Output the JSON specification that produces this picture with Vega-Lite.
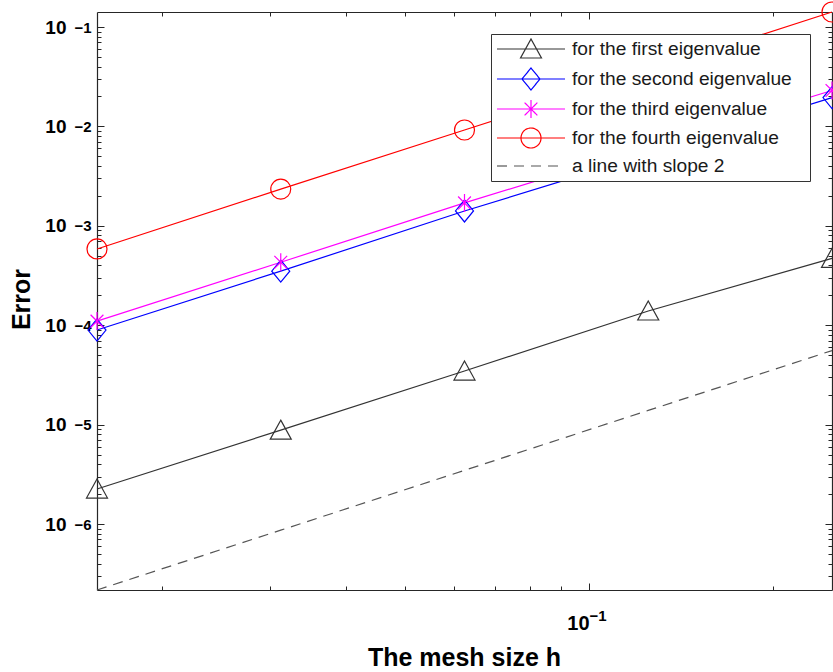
{
  "$schema": "https://vega.github.io/schema/vega-lite/v6.json",
  "autosize": {"type": "none"},
  "padding": {"left": 97, "top": 12, "right": 1, "bottom": 82},
  "width": 735,
  "height": 578,
  "background": "white",
  "config": {
    "view": {"stroke": null},
    "font": "Liberation Sans",
    "axis": {"grid": false, "domainColor": "#262626", "tickColor": "#262626", "domainWidth": 1.2, "tickWidth": 1, "labelColor": "#000", "titleColor": "#000", "labelFont": "Liberation Sans", "titleFont": "Liberation Sans"}
  },
  "data": {
    "values": [
      {"h": 0.015625, "err": 2.25e-6, "s": "for the first eigenvalue"},
      {"h": 0.03125, "err": 8.8e-6, "s": "for the first eigenvalue"},
      {"h": 0.0625, "err": 3.46e-5, "s": "for the first eigenvalue"},
      {"h": 0.125, "err": 1.39e-4, "s": "for the first eigenvalue"},
      {"h": 0.25, "err": 4.7e-4, "s": "for the first eigenvalue"},
      {"h": 0.015625, "err": 8.95e-5, "s": "for the second eigenvalue"},
      {"h": 0.03125, "err": 3.5e-4, "s": "for the second eigenvalue"},
      {"h": 0.0625, "err": 1.41e-3, "s": "for the second eigenvalue"},
      {"h": 0.125, "err": 5.2e-3, "s": "for the second eigenvalue"},
      {"h": 0.25, "err": 1.95e-2, "s": "for the second eigenvalue"},
      {"h": 0.015625, "err": 1.1e-4, "s": "for the third eigenvalue"},
      {"h": 0.03125, "err": 4.3e-4, "s": "for the third eigenvalue"},
      {"h": 0.0625, "err": 1.7e-3, "s": "for the third eigenvalue"},
      {"h": 0.125, "err": 6.3e-3, "s": "for the third eigenvalue"},
      {"h": 0.25, "err": 2.3e-2, "s": "for the third eigenvalue"},
      {"h": 0.015625, "err": 5.85e-4, "s": "for the fourth eigenvalue"},
      {"h": 0.03125, "err": 2.34e-3, "s": "for the fourth eigenvalue"},
      {"h": 0.0625, "err": 9.2e-3, "s": "for the fourth eigenvalue"},
      {"h": 0.125, "err": 3.6e-2, "s": "for the fourth eigenvalue"},
      {"h": 0.25, "err": 0.1416, "s": "for the fourth eigenvalue"},
      {"h": 0.015625, "err": 2.17e-7, "s": "a line with slope 2"},
      {"h": 0.03125, "err": 8.68e-7, "s": "a line with slope 2"},
      {"h": 0.0625, "err": 3.47e-6, "s": "a line with slope 2"},
      {"h": 0.125, "err": 1.39e-5, "s": "a line with slope 2"},
      {"h": 0.25, "err": 5.56e-5, "s": "a line with slope 2"}
    ]
  },
  "layer": [
    {
      "transform": [{"filter": "datum.s !== 'a line with slope 2'"}],
      "mark": {"type": "line", "strokeWidth": 1.2},
      "encoding": {
        "x": {"field": "h", "type": "quantitative",
          "scale": {"type": "log", "domain": [0.015625, 0.25], "nice": false},
          "axis": {"orient": "bottom", "values": [0.1], "tickSize": -7, "labelExpr": "'10'", "labelFontSize": 20, "labelFontWeight": "bold", "labelAlign": "right", "labelBaseline": "alphabetic", "labelPadding": 46, "labelDx": 2,
            "title": "The mesh size h", "titleFontSize": 25, "titleFontWeight": "bold", "titleY": 75, "titleBaseline": "alphabetic", "titleX": 367}},
        "y": {"field": "err", "type": "quantitative",
          "scale": {"type": "log", "domain": [2.17e-7, 0.1416], "nice": false},
          "axis": {"orient": "left", "values": [0.1, 0.01, 0.001, 0.0001, 0.00001, 0.000001], "tickSize": -7, "labelExpr": "'10'", "labelFontSize": 19, "labelFontWeight": "bold", "labelAlign": "right", "labelBaseline": "middle", "labelPadding": 38, "labelDy": 7,
            "title": "Error", "titleFontSize": 25, "titleFontWeight": "bold", "titleX": -76, "titleY": 287, "titleAngle": -90, "titleAlign": "center", "titleBaseline": "middle"}},
        "color": {"field": "s", "type": "nominal",
          "scale": {"domain": ["for the first eigenvalue", "for the second eigenvalue", "for the third eigenvalue", "for the fourth eigenvalue", "a line with slope 2"],
            "range": ["#333333", "#0000ff", "#ff00ff", "#ff0000", "#555555"]},
          "legend": {"title": null, "orient": "top-right", "offset": 22, "fillColor": "white", "strokeColor": "#333333", "padding": 4,
            "labelFont": "Liberation Sans", "labelFontSize": 19.2, "labelColor": "#1a1a1a", "symbolSize": 400, "rowPadding": 4, "labelOffset": 30, "symbolOffset": 25, "labelLimit": 400,
            "labelExpr": "datum.label + '\u2800'",
            "encode": {"symbols": {"update": {
              "shape": {"signal": "datum.value === 'for the first eigenvalue' ? 'M-3.4,0H3.4M0,-1L1.05,0.9L-1.05,0.9Z' : datum.value === 'for the second eigenvalue' ? 'M-3.4,0H3.4M0,-1.1L0.9,0L0,1.1L-0.9,0Z' : datum.value === 'for the third eigenvalue' ? 'M-3.4,0H3.4M0,-0.9V0.9M-0.64,-0.64L0.64,0.64M-0.64,0.64L0.64,-0.64' : datum.value === 'for the fourth eigenvalue' ? 'M-3.4,0H3.4M-1,0A1,1 0 1,0 1,0A1,1 0 1,0 -1,0' : 'M-3.4,0H3.4'"},
              "strokeDash": {"signal": "datum.value === 'a line with slope 2' ? [10, 7] : [1, 0]"},
              "fill": {"value": "transparent"},
              "fillOpacity": {"value": 0},
              "strokeWidth": {"value": 1.2},
              "opacity": {"value": 1}
            }}}}
        }
      }
    },
    {
      "transform": [{"filter": "datum.s !== 'a line with slope 2'"}],
      "mark": {"type": "point", "filled": false, "size": 400, "strokeWidth": 1.2, "opacity": 1},
      "encoding": {
        "x": {"field": "h", "type": "quantitative",
          "axis": {"orient": "bottom", "values": [0.02, 0.03, 0.04, 0.05, 0.06, 0.07, 0.08, 0.09, 0.1, 0.2], "tickSize": -4, "labelExpr": "abs(datum.value - 0.1) < 0.001 ? '−1' : ''", "labelFontSize": 15, "labelFontWeight": "bold", "labelAlign": "left", "labelBaseline": "alphabetic", "labelPadding": 34, "labelDx": 2, "labelOverlap": false, "title": null, "domain": false}},
        "y": {"field": "err", "type": "quantitative",
          "axis": {"orient": "left", "values": [0.1, 0.09, 0.08, 0.07, 0.06, 0.05, 0.04, 0.03, 0.02, 0.01, 0.009, 0.008, 0.007, 0.006, 0.005, 0.004, 0.003, 0.002, 0.001, 0.0009, 0.0008, 0.0007, 0.0006, 0.0005, 0.0004, 0.0003, 0.0002, 0.0001, 0.00009, 0.00008, 0.00007, 0.00006, 0.00005, 0.00004, 0.00003, 0.00002, 0.00001, 0.000009, 0.000008, 0.000007, 0.000006, 0.000005, 0.000004, 0.000003, 0.000002, 0.000001, 0.0000009, 0.0000008, 0.0000007, 0.0000006, 0.0000005, 0.0000004, 0.0000003],
            "tickSize": -4, "labelExpr": "abs(log(datum.value)/LN10 - round(log(datum.value)/LN10)) < 0.001 ? '−' + abs(round(log(datum.value)/LN10)) : ''", "labelFontSize": 15, "labelFontWeight": "bold", "labelAlign": "left", "labelBaseline": "middle", "labelPadding": 27, "labelDx": -80, "labelDy": -7, "labelOverlap": false, "title": null, "domain": false}},
        "color": {"field": "s", "type": "nominal", "legend": null},
        "shape": {"field": "s", "type": "nominal", "legend": null,
          "scale": {"domain": ["for the first eigenvalue", "for the second eigenvalue", "for the third eigenvalue", "for the fourth eigenvalue"],
            "range": ["M0,-1L1.05,0.9L-1.05,0.9Z", "M0,-1.1L0.9,0L0,1.1L-0.9,0Z", "M0,-0.9V0.9M-0.64,-0.64L0.64,0.64M-0.64,0.64L0.64,-0.64", "circle"]}}
      }
    },
    {
      "transform": [{"filter": "datum.s === 'a line with slope 2'"}],
      "mark": {"type": "line", "strokeWidth": 1.2, "strokeDash": [10, 7]},
      "encoding": {
        "x": {"field": "h", "type": "quantitative",
          "axis": {"orient": "top", "values": [0.1], "tickSize": -7, "labels": false, "title": null}},
        "y": {"field": "err", "type": "quantitative",
          "axis": {"orient": "right", "values": [0.1, 0.01, 0.001, 0.0001, 0.00001, 0.000001], "tickSize": -7, "labels": false, "title": null}},
        "color": {"field": "s", "type": "nominal"}
      }
    },
    {
      "transform": [{"filter": "datum.s === 'a line with slope 2'"}],
      "mark": {"type": "line", "opacity": 0},
      "encoding": {
        "x": {"field": "h", "type": "quantitative",
          "axis": {"orient": "top", "values": [0.02, 0.03, 0.04, 0.05, 0.06, 0.07, 0.08, 0.09, 0.2], "tickSize": -4, "labels": false, "title": null, "domain": false}},
        "y": {"field": "err", "type": "quantitative",
          "axis": {"orient": "right", "values": [0.09, 0.08, 0.07, 0.06, 0.05, 0.04, 0.03, 0.02, 0.009, 0.008, 0.007, 0.006, 0.005, 0.004, 0.003, 0.002, 0.0009, 0.0008, 0.0007, 0.0006, 0.0005, 0.0004, 0.0003, 0.0002, 0.00009, 0.00008, 0.00007, 0.00006, 0.00005, 0.00004, 0.00003, 0.00002, 0.000009, 0.000008, 0.000007, 0.000006, 0.000005, 0.000004, 0.000003, 0.000002, 0.0000009, 0.0000008, 0.0000007, 0.0000006, 0.0000005, 0.0000004, 0.0000003],
            "tickSize": -4, "labels": false, "title": null, "domain": false}}
      }
    }
  ],
  "resolve": {"axis": {"x": "independent", "y": "independent"}}
}
